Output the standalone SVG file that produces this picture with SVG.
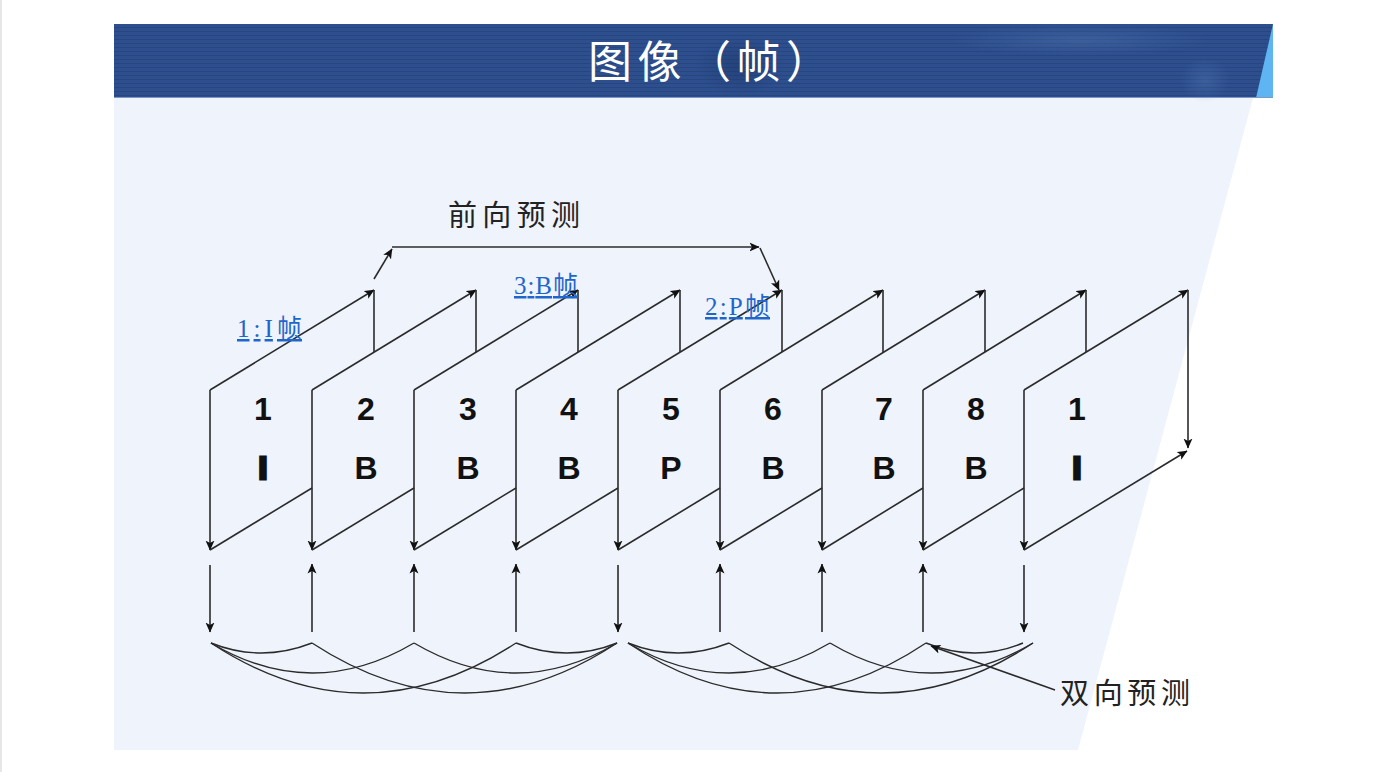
<svg xmlns="http://www.w3.org/2000/svg" width="1383" height="772" viewBox="0 0 1383 772">
  <defs>
    <style>
      .ln{stroke:#2b2b2b;stroke-width:1.6;fill:none}
      .arc{stroke:#2b2b2b;stroke-width:1.4;fill:none}
      .num{font-family:"Liberation Sans",Arial,sans-serif;font-weight:bold;font-size:32px;fill:#111;text-anchor:middle}
      .bar{stroke:#111;stroke-width:3}
      .cjk{font-family:"Noto Sans CJK SC","Noto Sans CJK JP",sans-serif;font-size:29px;fill:#222}
      .lnk{font-family:"Liberation Serif","Noto Sans CJK SC",serif;font-size:25px;fill:#1f66cc;text-decoration:underline}
    </style>
    <marker id="ah" viewBox="0 0 10 10" refX="9.5" refY="5" markerWidth="10" markerHeight="10" orient="auto" markerUnits="userSpaceOnUse">
      <path d="M0,0.5 L10,5 L0,9.5 L2.5,5 z" fill="#111"/>
    </marker>
    <pattern id="stripes" width="8" height="4" patternUnits="userSpaceOnUse">
      <rect width="8" height="4" fill="#2d4f8e"/>
      <rect y="3" width="8" height="1" fill="#27467f"/>
    </pattern>
    <radialGradient id="glow" cx="0.5" cy="0.5" r="0.5">
      <stop offset="0" stop-color="#5a7cb5" stop-opacity="0.35"/>
      <stop offset="1" stop-color="#5a7cb5" stop-opacity="0"/>
    </radialGradient>
    <radialGradient id="dark" cx="0.5" cy="0.5" r="0.5">
      <stop offset="0" stop-color="#1c3566" stop-opacity="0.5"/>
      <stop offset="1" stop-color="#1c3566" stop-opacity="0"/>
    </radialGradient>
  </defs>

  <!-- page -->
  <rect x="0" y="0" width="1383" height="772" fill="#ffffff"/>
  <rect x="0" y="0" width="2" height="772" fill="#e6e6e6"/>

  <!-- slide body -->
  <polygon points="114,98 1253,98 1078,750 114,750" fill="#eef3fc"/>

  <!-- header -->
  <g id="header">
    <rect x="114" y="24" width="1159" height="74" fill="url(#stripes)"/>
    <ellipse cx="740" cy="66" rx="45" ry="30" fill="url(#dark)"/>
    <ellipse cx="1080" cy="40" rx="130" ry="16" fill="url(#glow)"/>
    <ellipse cx="1205" cy="80" rx="25" ry="22" fill="url(#glow)"/>
    <polygon points="1273,24 1273,98 1256,98" fill="#5fb4f2"/>
    <line x1="114" y1="97.5" x2="1273" y2="97.5" stroke="#7d97c6" stroke-width="1"/>
    <text x="709" y="78" font-family="'Noto Sans CJK SC','Noto Sans CJK JP',sans-serif" font-size="44" fill="#ffffff" text-anchor="middle" textLength="242" lengthAdjust="spacing">图像（帧）</text>
  </g>

  <!-- frames -->
  <g id="frame1">
    <line class="ln" x1="210" y1="390" x2="210" y2="550" marker-end="url(#ah)"/>
    <line class="ln" x1="210" y1="390" x2="374" y2="290" marker-end="url(#ah)"/>
    <line class="ln" x1="374" y1="290" x2="374" y2="352"/>
    <line class="ln" x1="210" y1="550" x2="312" y2="488"/>
    <text class="num" x="263" y="420">1</text>
    <text class="num bar" x="263" y="479">I</text>
  </g>
  <g id="frame2">
    <line class="ln" x1="312" y1="390" x2="312" y2="550" marker-end="url(#ah)"/>
    <line class="ln" x1="312" y1="390" x2="476" y2="290" marker-end="url(#ah)"/>
    <line class="ln" x1="476" y1="290" x2="476" y2="352"/>
    <line class="ln" x1="312" y1="550" x2="414" y2="488"/>
    <text class="num" x="366" y="420">2</text>
    <text class="num" x="366" y="479">B</text>
  </g>
  <g id="frame3">
    <line class="ln" x1="414" y1="390" x2="414" y2="550" marker-end="url(#ah)"/>
    <line class="ln" x1="414" y1="390" x2="578" y2="290" marker-end="url(#ah)"/>
    <line class="ln" x1="578" y1="290" x2="578" y2="352"/>
    <line class="ln" x1="414" y1="550" x2="516" y2="488"/>
    <text class="num" x="468" y="420">3</text>
    <text class="num" x="468" y="479">B</text>
  </g>
  <g id="frame4">
    <line class="ln" x1="516" y1="390" x2="516" y2="550" marker-end="url(#ah)"/>
    <line class="ln" x1="516" y1="390" x2="680" y2="290" marker-end="url(#ah)"/>
    <line class="ln" x1="680" y1="290" x2="680" y2="352"/>
    <line class="ln" x1="516" y1="550" x2="618" y2="488"/>
    <text class="num" x="569" y="420">4</text>
    <text class="num" x="569" y="479">B</text>
  </g>
  <g id="frame5">
    <line class="ln" x1="618" y1="390" x2="618" y2="550" marker-end="url(#ah)"/>
    <line class="ln" x1="618" y1="390" x2="782" y2="290" marker-end="url(#ah)"/>
    <line class="ln" x1="782" y1="290" x2="782" y2="352"/>
    <line class="ln" x1="618" y1="550" x2="720" y2="488"/>
    <text class="num" x="671" y="420">5</text>
    <text class="num" x="671" y="479">P</text>
  </g>
  <g id="frame6">
    <line class="ln" x1="720" y1="390" x2="720" y2="550" marker-end="url(#ah)"/>
    <line class="ln" x1="720" y1="390" x2="883" y2="290" marker-end="url(#ah)"/>
    <line class="ln" x1="883" y1="290" x2="883" y2="352"/>
    <line class="ln" x1="720" y1="550" x2="822" y2="488"/>
    <text class="num" x="773" y="420">6</text>
    <text class="num" x="773" y="479">B</text>
  </g>
  <g id="frame7">
    <line class="ln" x1="822" y1="390" x2="822" y2="550" marker-end="url(#ah)"/>
    <line class="ln" x1="822" y1="390" x2="985" y2="290" marker-end="url(#ah)"/>
    <line class="ln" x1="985" y1="290" x2="985" y2="352"/>
    <line class="ln" x1="822" y1="550" x2="923" y2="488"/>
    <text class="num" x="884" y="420">7</text>
    <text class="num" x="884" y="479">B</text>
  </g>
  <g id="frame8">
    <line class="ln" x1="923" y1="390" x2="923" y2="550" marker-end="url(#ah)"/>
    <line class="ln" x1="923" y1="390" x2="1086" y2="290" marker-end="url(#ah)"/>
    <line class="ln" x1="1086" y1="290" x2="1086" y2="352"/>
    <line class="ln" x1="923" y1="550" x2="1024" y2="488"/>
    <text class="num" x="976" y="420">8</text>
    <text class="num" x="976" y="479">B</text>
  </g>
  <g id="frame9">
    <line class="ln" x1="1024" y1="390" x2="1024" y2="550" marker-end="url(#ah)"/>
    <line class="ln" x1="1024" y1="390" x2="1188" y2="290" marker-end="url(#ah)"/>
    <line class="ln" x1="1188" y1="290" x2="1188" y2="448" marker-end="url(#ah)"/>
    <line class="ln" x1="1024" y1="550" x2="1187" y2="451" marker-end="url(#ah)"/>
    <text class="num" x="1077" y="420">1</text>
    <text class="num bar" x="1077" y="479">I</text>
  </g>

  <!-- labels -->
  <g id="labels">
    <text class="cjk" x="448" y="226" textLength="132" lengthAdjust="spacing">前向预测</text>
    <text class="cjk" x="1060" y="704" textLength="130" lengthAdjust="spacing">双向预测</text>
    <text class="lnk" x="237" y="337" textLength="65" lengthAdjust="spacing">1:I帧</text>
    <text class="lnk" x="514" y="294" textLength="64" lengthAdjust="spacing">3:B帧</text>
    <text class="lnk" x="705" y="315" textLength="65" lengthAdjust="spacing">2:P帧</text>
  </g>

  <!-- connectors -->
  <g id="connectors">
    <!-- forward prediction -->
    <line class="ln" x1="374" y1="279" x2="392" y2="249" stroke-width="2" marker-end="url(#ah)"/>
    <line class="ln" x1="392" y1="247" x2="759" y2="247" stroke-width="2.2" marker-end="url(#ah)"/>
    <line class="ln" x1="760" y1="248" x2="779" y2="290" stroke-width="2" marker-end="url(#ah)"/>

    <!-- vertical arrows -->
    <line class="ln" x1="210" y1="565" x2="210" y2="632" marker-end="url(#ah)"/>
    <line class="ln" x1="312" y1="632" x2="312" y2="564" marker-end="url(#ah)"/>
    <line class="ln" x1="414" y1="632" x2="414" y2="564" stroke-width="2" marker-end="url(#ah)"/>
    <line class="ln" x1="516" y1="632" x2="516" y2="564" marker-end="url(#ah)"/>
    <line class="ln" x1="618" y1="565" x2="618" y2="632" marker-end="url(#ah)"/>
    <line class="ln" x1="720" y1="632" x2="720" y2="564" marker-end="url(#ah)"/>
    <line class="ln" x1="822" y1="632" x2="822" y2="564" marker-end="url(#ah)"/>
    <line class="ln" x1="923" y1="632" x2="923" y2="564" marker-end="url(#ah)"/>
    <line class="ln" x1="1024" y1="565" x2="1024" y2="632" marker-end="url(#ah)"/>

    <!-- bidirectional arcs group 1 -->
    <path class="arc" d="M211,643 Q261,663 312,643"/>
    <path class="arc" d="M211,643 Q312,703 414,643"/>
    <path class="arc" d="M211,643 Q363,743 516,643"/>
    <path class="arc" d="M312,643 Q465,743 617,643"/>
    <path class="arc" d="M414,643 Q516,703 617,643"/>
    <path class="arc" d="M516,643 Q567,663 617,643"/>
    <!-- group 2 -->
    <path class="arc" d="M628,643 Q678,663 729,643"/>
    <path class="arc" d="M628,643 Q729,703 830,643"/>
    <path class="arc" d="M628,643 Q777,743 926,643"/>
    <path class="arc" d="M729,643 Q881,743 1033,643"/>
    <path class="arc" d="M830,643 Q931,703 1033,643"/>
    <path class="arc" d="M926,643 Q975,663 1023,643"/>
    <!-- bidirectional label pointer -->
    <line class="ln" x1="1055" y1="690" x2="931" y2="646" marker-end="url(#ah)"/>
  </g>
</svg>
